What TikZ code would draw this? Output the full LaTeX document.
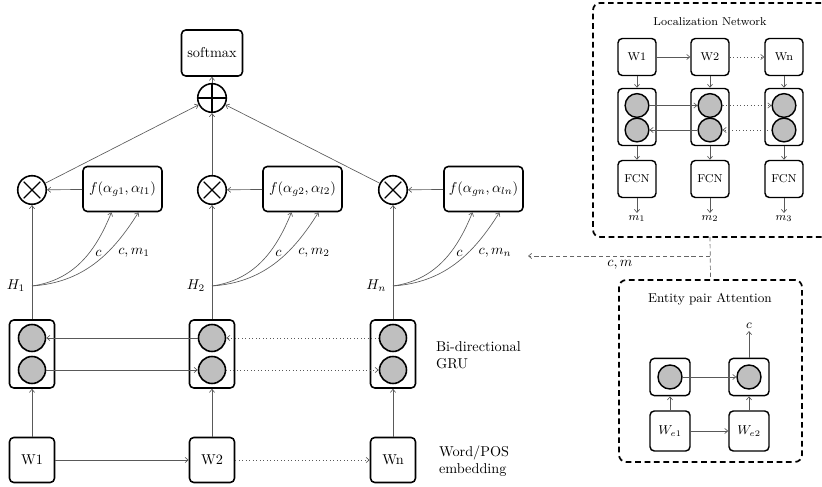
\documentclass[tikz,border=0pt]{standalone}
\usetikzlibrary{arrows.meta,calc}
\begin{document}
\begin{tikzpicture}[x=0.7pt,y=-0.7pt,
  conn/.style={draw=black!65,line width=0.45pt,-{Straight Barb[length=2.2pt,width=3.6pt]}},
  dconn/.style={draw=black!60,line width=0.5pt,dash pattern=on 3pt off 2pt},
  box/.style={draw,line width=1.1pt,rounded corners=3pt,inner sep=2pt,align=center},
  unit/.style={circle,draw,line width=1.1pt,fill=black!25,inner sep=0pt,minimum size=18.9pt},
  lunit/.style={circle,draw,line width=1pt,fill=black!25,inner sep=0pt,minimum size=16.6pt},
  eunit/.style={circle,draw,line width=1pt,fill=black!25,inner sep=0pt,minimum size=16.8pt},
  opbase/.style={circle,draw,line width=1.1pt,inner sep=0pt,minimum size=20pt},
  plusop/.style={opbase,path picture={\draw[line width=0.8pt]
      (path picture bounding box.north) -- (path picture bounding box.south)
      (path picture bounding box.west) -- (path picture bounding box.east);}},
  timesop/.style={opbase,path picture={\draw[line width=0.8pt]
      ([shift={(-5.8pt,-5.8pt)}]path picture bounding box.center) -- ([shift={(5.8pt,5.8pt)}]path picture bounding box.center)
      ([shift={(-5.8pt,5.8pt)}]path picture bounding box.center) -- ([shift={(5.8pt,-5.8pt)}]path picture bounding box.center);}},
  groupbox/.style={draw,line width=1.2pt,dash pattern=on 4pt off 2.6pt,rounded corners=5pt,inner sep=0pt},
  lbox/.style={box,line width=1pt,font=\footnotesize,minimum width=26.6pt,minimum height=25.9pt},
  lgru/.style={box,line width=1pt,minimum width=26.6pt,minimum height=39.9pt},
  ebox/.style={box,line width=1pt,font=\small,minimum width=28pt,minimum height=26pt},
]
\useasboundingbox (0,0) rectangle (822,487);

% ---------------- main network ----------------
\node[box,minimum width=42.7pt,minimum height=32.2pt] (soft) at (212,53) {softmax};
\node[plusop] (plus) at (212,98) {};
\draw[conn] (plus) -- (soft);

\foreach \i/\x in {1/32,2/212,n/393}{
  \node[timesop] (t\i) at (\x,190) {};
  \node[box,minimum width=55.3pt,minimum height=31.5pt] (f\i) at (\x+90.5,189) {$f(\alpha_{g\i},\alpha_{l\i})$};
  \node[box,minimum width=31.5pt,minimum height=47.6pt] (g\i) at (\x,354) {};
  \node[unit] (gt\i) at (\x,338) {};
  \node[unit] (gb\i) at (\x,370) {};
  \node[box,minimum width=31.5pt,minimum height=31.5pt] (w\i) at (\x,460) {W\i};
  \coordinate (h\i) at (\x,286);
  \node[anchor=east,inner sep=2.5pt] (hl\i) at ($(h\i)+(-3,0)$) {$H_\i$};
  \draw[conn] (w\i) -- (g\i);
  \draw[conn] (g\i) -- (t\i);
  \draw[conn] (f\i) -- (t\i);
  \draw[conn] (t\i) -- (plus);
  \draw[conn] (h\i) to[out=8,in=-112] ($(f\i.south)+(-11,0)$);
  \draw[conn] (h\i) to[out=4,in=-122] ($(f\i.south)+(16,0)$);
  \node (c\i) at (\x+66.5,253) {$c$};
  \node (cm\i) at (\x+102,253) {$c, m_\i$};
}

\draw[conn] (gt2) -- (gt1);
\draw[conn,dotted] (gtn) -- (gt2);
\draw[conn] (gb1) -- (gb2);
\draw[conn,dotted] (gb2) -- (gbn);
\draw[conn] (w1) -- (w2);
\draw[conn,dotted] (w2) -- (wn);

\node[align=left,anchor=west] (bigru) at (431,355) {Bi-directional\\GRU};
\node[align=left,anchor=west] (wpos) at (434,461) {Word/POS\\embedding};

% ---------------- Localization Network (open on the right: it runs past the picture's edge) ----------------
\begin{scope}
  \clip (0,0) rectangle (822,487);
  \draw[groupbox] (840,3) -- (593,3) -- (593,237) -- (840,237);
\end{scope}
\coordinate (locbottom) at (710,237);
\node[font=\footnotesize] (loctitle) at (710,22) {Localization Network};
\foreach \i/\x/\m in {1/637/1,2/710/2,n/784/3}{
  \node[lbox] (lw\i) at (\x,57) {W\i};
  \node[lgru] (lg\i) at (\x,117) {};
  \node[lunit] (lgt\i) at (\x,105.5) {};
  \node[lunit] (lgb\i) at (\x,130) {};
  \node[lbox] (fcn\i) at (\x,179) {FCN};
  \coordinate (mend\i) at (\x,213);
  \node[anchor=north,inner sep=1.5pt,font=\footnotesize] (m\i) at (mend\i) {$m_\m$};
  \draw[conn] (lw\i) -- (lg\i);
  \draw[conn] (lg\i) -- (fcn\i);
  \draw[conn] (fcn\i) -- (mend\i);
}
\draw[conn] (lw1) -- (lw2);
\draw[conn,dotted] (lw2) -- (lwn);
\draw[conn] (lgt1) -- (lgt2);
\draw[conn,dotted] (lgt2) -- (lgtn);
\draw[conn] (lgb2) -- (lgb1);
\draw[conn,dotted] (lgbn) -- (lgb2);

% ---------------- Entity pair Attention ----------------
\node[groupbox,minimum width=128.1pt,minimum height=127.4pt] (ent) at (710.5,371) {};
\node[font=\small] (enttitle) at (710,299) {Entity pair Attention};
\node[ebox] (et1) at (670,377) {};
\node[eunit] (ec1) at (670,377) {};
\node[ebox] (et2) at (749,377) {};
\node[eunit] (ec2) at (749,377) {};
\node[ebox,minimum height=28pt] (ew1) at (670,431) {$W_{e1}$};
\node[ebox,minimum height=28pt] (ew2) at (749,431) {$W_{e2}$};
\coordinate (cend) at (749,331);
\node[anchor=south,inner sep=1.5pt,font=\small] (clab) at (cend) {$c$};
\draw[conn] (ew1) -- (ew2);
\draw[conn] (ew1) -- (et1);
\draw[conn] (ew2) -- (et2);
\draw[conn] (ec1) -- (ec2);
\draw[conn] (et2) -- (cend);

% ---------------- c, m link ----------------
\coordinate (cmj) at (710,256);
\coordinate (cmend) at (528,256);
\draw[dconn] (locbottom) -- (ent.north);
\draw[dconn,-{Straight Barb[length=2.2pt,width=3.6pt]}] (cmj) -- (cmend);
\node (cmlab) at (620,265) {$c, m$};
\end{tikzpicture}
\end{document}
